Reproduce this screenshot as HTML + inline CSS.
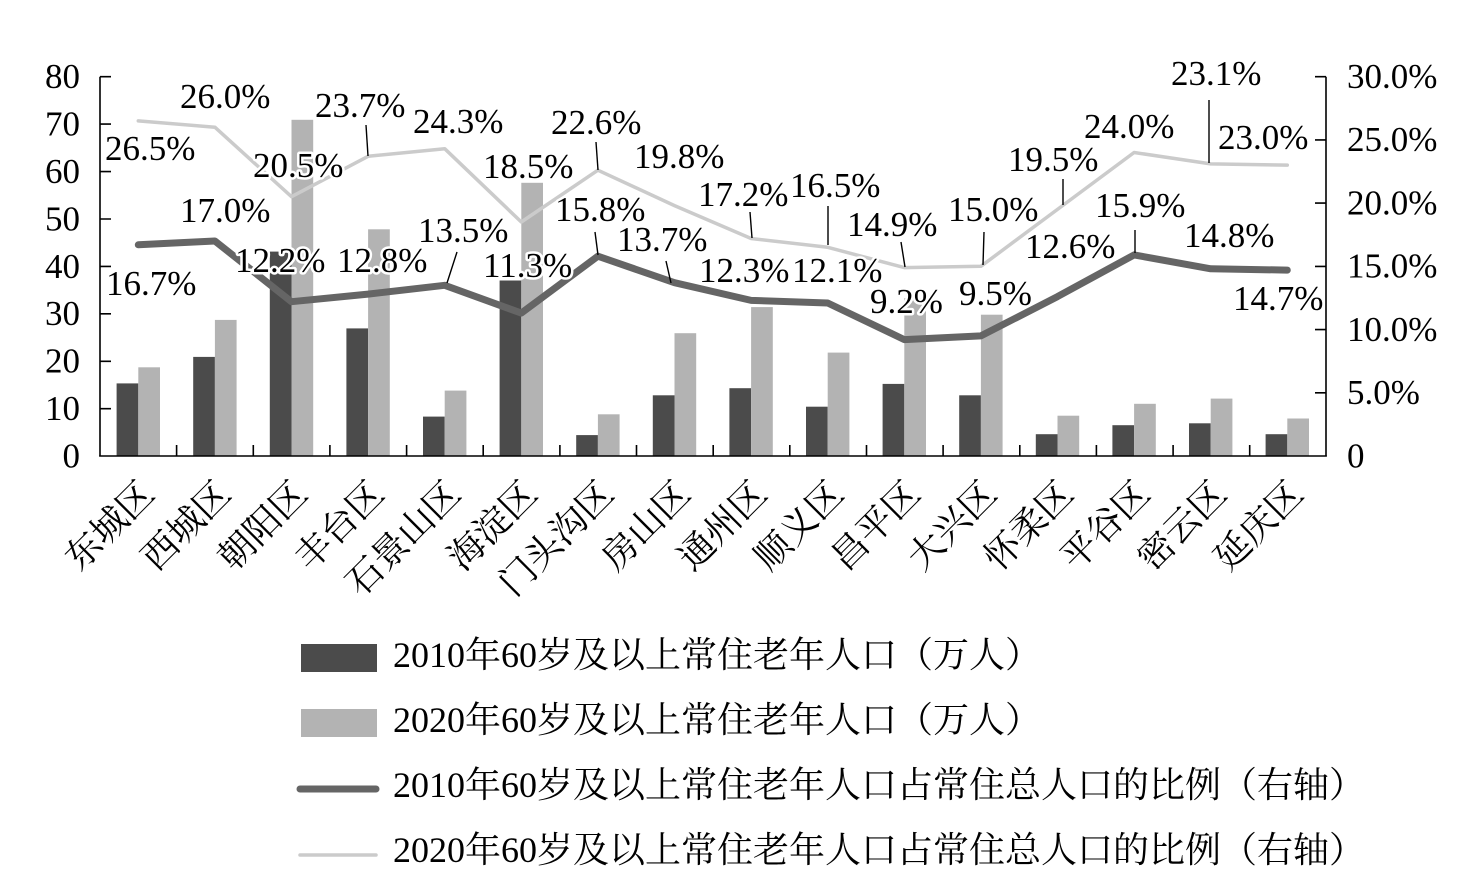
<!DOCTYPE html>
<html><head><meta charset="utf-8"><style>
html,body{margin:0;padding:0;background:#fff;}
svg{display:block;}
text{font-family:"Liberation Serif","Noto Serif CJK SC",serif;fill:#000;}
.lab{font-size:35px;paint-order:stroke;stroke:#fff;stroke-width:5px;stroke-linejoin:round;}
.ax{font-size:35px;}
.xl{font-size:36px;}
.lg{font-size:36px;}
</style></head><body>
<svg width="1467" height="884" viewBox="0 0 1467 884" xmlns="http://www.w3.org/2000/svg">
<rect width="1467" height="884" fill="#fff"/>
<!-- bars 2010 -->
<g fill="#4b4b4b">
<rect x="116.6" y="383.4" width="21.7" height="72.6"/>
<rect x="193.2" y="356.9" width="21.7" height="99.1"/>
<rect x="269.8" y="251.6" width="21.7" height="204.4"/>
<rect x="346.4" y="328.4" width="21.7" height="127.6"/>
<rect x="423.0" y="416.6" width="21.7" height="39.4"/>
<rect x="499.6" y="280.5" width="21.7" height="175.5"/>
<rect x="576.2" y="435.1" width="21.7" height="20.9"/>
<rect x="652.8" y="395.3" width="21.7" height="60.7"/>
<rect x="729.4" y="388.2" width="21.7" height="67.8"/>
<rect x="806.0" y="406.7" width="21.7" height="49.3"/>
<rect x="882.6" y="383.9" width="21.7" height="72.1"/>
<rect x="959.2" y="395.3" width="21.7" height="60.7"/>
<rect x="1035.8" y="434.2" width="21.7" height="21.8"/>
<rect x="1112.4" y="425.2" width="21.7" height="30.8"/>
<rect x="1189.0" y="423.3" width="21.7" height="32.7"/>
<rect x="1265.6" y="434.2" width="21.7" height="21.8"/>
</g>
<!-- bars 2020 -->
<g fill="#b3b3b3">
<rect x="138.3" y="367.3" width="21.7" height="88.7"/>
<rect x="214.9" y="319.9" width="21.7" height="136.1"/>
<rect x="291.5" y="119.8" width="21.7" height="336.2"/>
<rect x="368.1" y="229.3" width="21.7" height="226.7"/>
<rect x="444.7" y="390.6" width="21.7" height="65.4"/>
<rect x="521.3" y="182.8" width="21.7" height="273.2"/>
<rect x="597.9" y="414.3" width="21.7" height="41.7"/>
<rect x="674.5" y="333.2" width="21.7" height="122.8"/>
<rect x="751.1" y="307.1" width="21.7" height="148.9"/>
<rect x="827.7" y="352.6" width="21.7" height="103.4"/>
<rect x="904.3" y="298.1" width="21.7" height="157.9"/>
<rect x="980.9" y="314.7" width="21.7" height="141.3"/>
<rect x="1057.5" y="415.7" width="21.7" height="40.3"/>
<rect x="1134.1" y="403.8" width="21.7" height="52.2"/>
<rect x="1210.7" y="398.6" width="21.7" height="57.4"/>
<rect x="1287.3" y="418.5" width="21.7" height="37.5"/>
</g>
<!-- lines -->
<polyline fill="none" stroke="#cbcbcb" stroke-width="3.5" stroke-linejoin="round" stroke-linecap="round"
points="138.3,120.9 214.9,127.2 291.5,196.7 368.1,156.3 444.7,148.7 521.3,222.0 597.9,170.2 674.5,205.6 751.1,238.5 827.7,247.3 904.3,267.6 980.9,266.3 1057.5,209.4 1134.1,152.5 1210.7,163.9 1287.3,165.1"/>
<polyline fill="none" stroke="#656565" stroke-width="7" stroke-linejoin="round" stroke-linecap="round"
points="138.3,244.8 214.9,241.0 291.5,301.7 368.1,294.1 444.7,285.3 521.3,313.1 597.9,256.2 674.5,282.7 751.1,300.4 827.7,303.0 904.3,339.6 980.9,335.9 1057.5,296.6 1134.1,254.9 1210.7,268.8 1287.3,270.1"/>
<!-- axes -->
<g stroke="#000" stroke-width="1.6" fill="none">
<line x1="100" y1="76.7" x2="100" y2="456.5"/>
<line x1="1326" y1="76.7" x2="1326" y2="456.5"/>
<line x1="99.2" y1="456" x2="1326.8" y2="456"/>
<path d="M100 76.7h11M100 124.1h11M100 171.6h11M100 219h11M100 266.4h11M100 313.8h11M100 361.3h11M100 408.7h11"/>
<path d="M1315 76.7h11M1315 139.9h11M1315 203.1h11M1315 266.4h11M1315 329.6h11M1315 392.8h11"/>
<path d="M176.6 456v-11M253.3 456v-11M329.9 456v-11M406.6 456v-11M483.2 456v-11M559.9 456v-11M636.5 456v-11M713.2 456v-11M789.8 456v-11M866.5 456v-11M943.1 456v-11M1019.8 456v-11M1096.4 456v-11M1173.1 456v-11M1249.7 456v-11"/>
</g>
<!-- leader lines -->
<g stroke="#000" stroke-width="1.4">
<line x1="366" y1="125" x2="368" y2="156"/>
<line x1="457" y1="252" x2="447" y2="283"/>
<line x1="596" y1="142" x2="598" y2="170"/>
<line x1="595" y1="232" x2="598" y2="255"/>
<line x1="666" y1="261" x2="671" y2="283"/>
<line x1="750" y1="212" x2="752" y2="238"/>
<line x1="828" y1="206" x2="828" y2="245"/>
<line x1="901" y1="242" x2="905" y2="267"/>
<line x1="984" y1="232" x2="983" y2="265"/>
<line x1="1063" y1="179" x2="1063" y2="205"/>
<line x1="1135" y1="230" x2="1135" y2="253"/>
<line x1="1209" y1="100" x2="1209" y2="163"/>
</g>
<!-- left axis labels -->
<g class="ax" text-anchor="end">
<text x="80" y="88">80</text>
<text x="80" y="135.5">70</text>
<text x="80" y="183">60</text>
<text x="80" y="230.5">50</text>
<text x="80" y="278">40</text>
<text x="80" y="325">30</text>
<text x="80" y="372.5">20</text>
<text x="80" y="420">10</text>
<text x="80" y="467.5">0</text>
</g>
<!-- right axis labels -->
<g class="ax">
<text x="1347" y="88">30.0%</text>
<text x="1347" y="151">25.0%</text>
<text x="1347" y="214.5">20.0%</text>
<text x="1347" y="277.5">15.0%</text>
<text x="1347" y="341">10.0%</text>
<text x="1347" y="404">5.0%</text>
<text x="1347" y="467.5">0</text>
</g>
<!-- data labels -->
<g class="lab">
<text x="105" y="160">26.5%</text>
<text x="180" y="108">26.0%</text>
<text x="315" y="117">23.7%</text>
<text x="253" y="177">20.5%</text>
<text x="180" y="222">17.0%</text>
<text x="235" y="272">12.2%</text>
<text x="337" y="272">12.8%</text>
<text x="106" y="295">16.7%</text>
<text x="413" y="133">24.3%</text>
<text x="418" y="242">13.5%</text>
<text x="483" y="178">18.5%</text>
<text x="483" y="277">11.3%</text>
<text x="551" y="134">22.6%</text>
<text x="555" y="221">15.8%</text>
<text x="634" y="168">19.8%</text>
<text x="617" y="251">13.7%</text>
<text x="698" y="206">17.2%</text>
<text x="699" y="282">12.3%</text>
<text x="790" y="197">16.5%</text>
<text x="792" y="282">12.1%</text>
<text x="847" y="236">14.9%</text>
<text x="870" y="313">9.2%</text>
<text x="948" y="221">15.0%</text>
<text x="959" y="305">9.5%</text>
<text x="1008" y="171">19.5%</text>
<text x="1025" y="258">12.6%</text>
<text x="1084" y="138">24.0%</text>
<text x="1171" y="85">23.1%</text>
<text x="1218" y="149">23.0%</text>
<text x="1095" y="217">15.9%</text>
<text x="1184" y="247">14.8%</text>
<text x="1233" y="310">14.7%</text>
</g>
<!-- x labels -->
<g class="xl" text-anchor="end">
<text transform="translate(156.3,496) rotate(-45)">东城区</text>
<text transform="translate(232.9,496) rotate(-45)">西城区</text>
<text transform="translate(309.5,496) rotate(-45)">朝阳区</text>
<text transform="translate(386.1,496) rotate(-45)">丰台区</text>
<text transform="translate(462.7,496) rotate(-45)">石景山区</text>
<text transform="translate(539.3,496) rotate(-45)">海淀区</text>
<text transform="translate(615.9,496) rotate(-45)">门头沟区</text>
<text transform="translate(692.5,496) rotate(-45)">房山区</text>
<text transform="translate(769.1,496) rotate(-45)">通州区</text>
<text transform="translate(845.7,496) rotate(-45)">顺义区</text>
<text transform="translate(922.3,496) rotate(-45)">昌平区</text>
<text transform="translate(998.9,496) rotate(-45)">大兴区</text>
<text transform="translate(1075.5,496) rotate(-45)">怀柔区</text>
<text transform="translate(1152.1,496) rotate(-45)">平谷区</text>
<text transform="translate(1228.7,496) rotate(-45)">密云区</text>
<text transform="translate(1305.3,496) rotate(-45)">延庆区</text>
</g>
<!-- legend -->
<rect x="301" y="644" width="76" height="28" fill="#4b4b4b"/>
<rect x="301" y="709" width="76" height="28" fill="#b3b3b3"/>
<line x1="300" y1="789" x2="376" y2="789" stroke="#656565" stroke-width="7" stroke-linecap="round"/>
<line x1="300" y1="855" x2="376" y2="855" stroke="#cbcbcb" stroke-width="3.5" stroke-linecap="round"/>
<g class="lg">
<text x="393" y="667">2010年60岁及以上常住老年人口（万人）</text>
<text x="393" y="732">2020年60岁及以上常住老年人口（万人）</text>
<text x="393" y="797">2010年60岁及以上常住老年人口占常住总人口的比例（右轴）</text>
<text x="393" y="862">2020年60岁及以上常住老年人口占常住总人口的比例（右轴）</text>
</g>
</svg>
</body></html>
